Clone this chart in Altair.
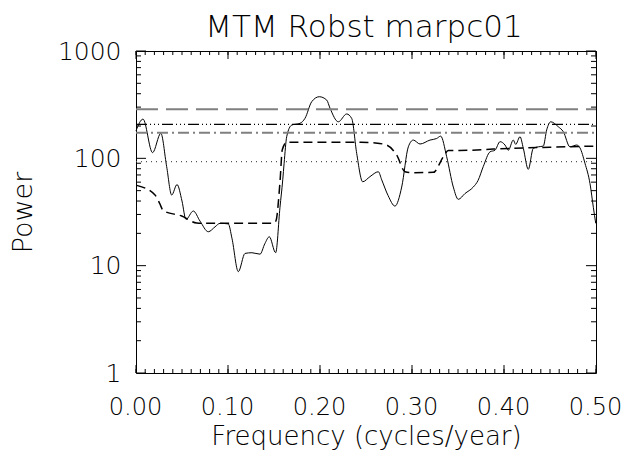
import altair as alt
import pandas as pd

# ---- data ----
title_text = ["MTM Robst marpc01"]

freq = [0.000, 0.0076, 0.018, 0.027, 0.0333, 0.0388, 0.0446, 0.050, 0.0543, 0.0623,
        0.0696, 0.0786, 0.0859, 0.0913, 0.1003, 0.1043, 0.1112, 0.1185, 0.126, 0.1348,
        0.140, 0.1449, 0.1518, 0.1565, 0.1595, 0.161, 0.1638, 0.1692, 0.1783, 0.1837,
        0.191, 0.1992, 0.2073, 0.2109, 0.2199, 0.229, 0.2345, 0.2399, 0.2464, 0.2543,
        0.2634, 0.2671, 0.274, 0.2815, 0.2888, 0.296, 0.3014, 0.3087, 0.3196, 0.3268,
        0.3312, 0.3377, 0.3449, 0.3503, 0.3576, 0.3666, 0.3717, 0.3775, 0.3848, 0.3902,
        0.3957, 0.4011, 0.4047, 0.4101, 0.4127, 0.4174, 0.421, 0.4264, 0.4318, 0.4373,
        0.4427, 0.4464, 0.4508, 0.459, 0.4645, 0.4717, 0.479, 0.4826, 0.488, 0.4935,
        0.4971, 0.4997]
power = [180, 232, 113, 171, 84, 45.5, 57, 40, 27, 32.3,
         26, 20.7, 23, 24.8, 24.5, 18, 8.8, 13, 13.2, 12.8,
         16, 18.6, 13.2, 35, 63, 90, 159, 204, 212, 236,
         337, 375, 349, 293, 219, 259, 235, 111, 60.5, 67.5,
         75, 63, 45, 35.9, 54, 128, 148, 136, 148, 153,
         161, 103.5, 54, 41.5, 47, 54, 62, 84, 115, 119,
         143, 133, 119, 148, 135, 159, 124, 79, 124, 128,
         130, 184, 219, 197, 177, 128, 133, 125, 90, 58,
         35, 24.8]

bg_freq = [0.0008, 0.0207, 0.0257, 0.0297, 0.0497, 0.0660, 0.0768, 0.1487, 0.152, 0.1565,
           0.159, 0.1638, 0.200, 0.2445, 0.260, 0.2725, 0.2834, 0.2924, 0.2989, 0.3232,
           0.3341, 0.3395, 0.3630, 0.3884, 0.4101, 0.450, 0.500]
bg_power = [56, 45.5, 38, 32.5, 29, 25, 24.8, 24.8, 26, 60,
            120, 141, 141, 141, 139, 133, 107, 75, 73.5, 74,
            103.5, 118, 119, 122, 124, 127, 130]

level_dotted = [93]
level_dashdot = [173]
level_dash3dot = [207]
level_longdash = [286]

x_major = [0.0, 0.1, 0.2, 0.3, 0.4, 0.5]
x_minor = [i / 100 for i in range(51)]
y_major = [1, 10, 100, 1000]
y_minor = [m * 10 ** e for e in range(3) for m in range(2, 10)]

W, H = 460, 322
FONT = "DejaVu Sans"
WT = 200

xscale = alt.Scale(domain=[0, 0.5], nice=False, zero=False)
yscale = alt.Scale(type="log", domain=[1, 1000], nice=False)

xaxis = alt.Axis(values=x_major, format=".2f", title="Frequency (cycles/year)",
                 labelPadding=22, labelFlush=False, labelFontSize=24, labelOffset=-1,
                 titlePadding=4, titleFontSize=26)
yaxis = alt.Axis(values=y_major, format="d", title="Power", labelPadding=15,
                 labelFlush=False, titlePadding=20)

spec = pd.DataFrame({"f": freq, "p": power})
bg = pd.DataFrame({"f": bg_freq, "p": bg_power})

line = alt.Chart(spec).mark_line(color="black", strokeWidth=1, interpolate="monotone").encode(
    x=alt.X("f:Q", scale=xscale, axis=xaxis),
    y=alt.Y("p:Q", scale=yscale, axis=yaxis),
)
bgline = alt.Chart(bg).mark_line(color="black", strokeWidth=1.5, strokeDash=[9, 5],
                                 interpolate="monotone").encode(
    x=alt.X("f:Q", scale=xscale),
    y=alt.Y("p:Q", scale=yscale),
)


def hline(vals, color, dash, width):
    return alt.Chart(pd.DataFrame({"p": vals})).mark_rule(
        color=color, strokeDash=dash, strokeWidth=width).encode(
        y=alt.Y("p:Q", scale=yscale),
        x=alt.value(0), x2=alt.value(W))


h1 = hline(level_dotted, "#555555", [1, 4], 1.2)
h2 = hline(level_dashdot, "#808080", [11, 4, 2, 4], 2)
h3 = hline(level_dash3dot, "black", [11, 3, 1, 3, 1, 3, 1, 3], 1.2)
h4 = hline(level_longdash, "#808080", [22, 8], 2)


def xticks(vals, length):
    d = pd.DataFrame({"f": vals})
    bot = alt.Chart(d).mark_rule(color="black", strokeWidth=1).encode(
        x=alt.X("f:Q", scale=xscale), y=alt.value(H), y2=alt.value(H - length))
    top = alt.Chart(d).mark_rule(color="black", strokeWidth=1).encode(
        x=alt.X("f:Q", scale=xscale), y=alt.value(0), y2=alt.value(length))
    return [bot, top]


def yticks(vals, length):
    d = pd.DataFrame({"p": vals})
    left = alt.Chart(d).mark_rule(color="black", strokeWidth=1).encode(
        y=alt.Y("p:Q", scale=yscale), x=alt.value(0), x2=alt.value(length))
    right = alt.Chart(d).mark_rule(color="black", strokeWidth=1).encode(
        y=alt.Y("p:Q", scale=yscale), x=alt.value(W), x2=alt.value(W - length))
    return [left, right]


title = alt.Chart(pd.DataFrame({"t": title_text})).mark_text(
    font=FONT, fontSize=31, fontWeight=WT, color="black", align="center",
    baseline="alphabetic").encode(
    text=alt.Text("t:N"), x=alt.value(W / 2 - 2), y=alt.value(-14))

layers = [line, h1, h2, h3, h4, bgline] + xticks(x_minor, 4) + xticks(x_major, 8) \
    + yticks(y_minor, 5) + yticks(y_major, 10) + [title]

chart = alt.layer(*layers).properties(
    width=W, height=H,
    background="white",
    padding={"left": 128, "top": 43, "right": 25, "bottom": 79},
    autosize=alt.AutoSizeParams(type="none"),
).configure(
    view=alt.ViewConfig(stroke="black", strokeWidth=1),
    axis=alt.AxisConfig(grid=False, domain=False, ticks=False, tickSize=0,
                        labelFont=FONT, labelFontSize=25, labelColor="black",
                        labelFontWeight=WT,
                        titleFont=FONT, titleFontSize=27, titleFontWeight=WT,
                        titleColor="black"),
)

chart.save("out.html", embed_options={"renderer": "svg", "actions": False})
